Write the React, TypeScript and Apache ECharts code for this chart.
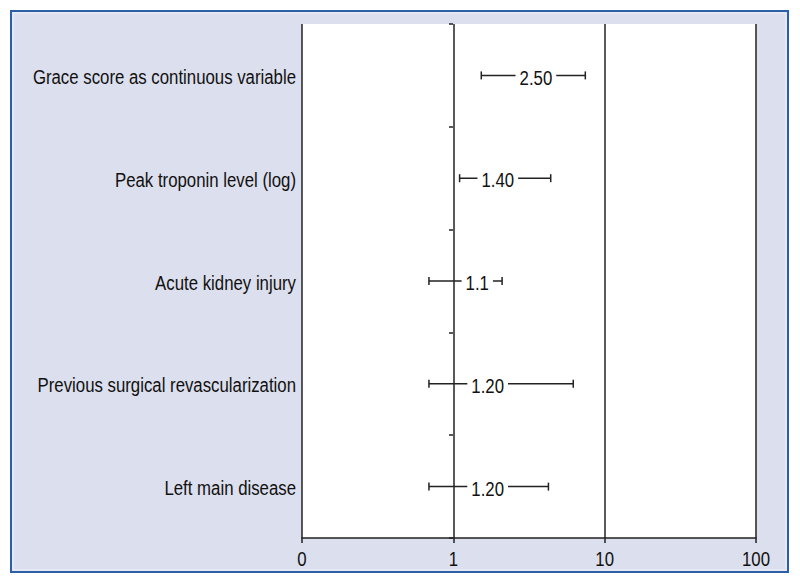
import React, { useEffect, useRef } from "react";
import * as echarts from "echarts";

const categories = [
  "Grace score as continuous variable",
  "Peak troponin level (log)",
  "Acute kidney injury",
  "Previous surgical revascularization",
  "Left main disease",
];
const estimates = [2.5, 1.4, 1.1, 1.2, 1.2];
const lowerCI = [1.53, 1.1, 0.69, 0.69, 0.69];
const upperCI = [7.45, 4.4, 2.1, 6.2, 4.25];
const estimateLabels = ["2.50", "1.40", "1.1", "1.20", "1.20"];
const xTickValues = [0.1, 1, 10, 100];
const xTickLabels = ["0", "1", "10", "100"];

const FONT = "'Liberation Sans', Arial, sans-serif";
const FS = 21;
const SX = 0.8;
const INK = "#222";
const TXT = "#111";

export default function App() {
  const ref = useRef<HTMLDivElement>(null);
  useEffect(() => {
    if (!ref.current) return;
    const chart = echarts.init(ref.current, undefined, { renderer: "svg" });
    const data = categories.map((_, i) => [i, estimates[i], lowerCI[i], upperCI[i]]);
    const tickData = xTickValues.map((v, i) => [v, categories.length - 1, i]);
    chart.setOption({
      animation: false,
      backgroundColor: "#ffffff",
      graphic: [
        {
          type: "rect",
          z: -100,
          shape: { x: 11, y: 11, width: 777, height: 561 },
          style: { fill: "#dcdfed", stroke: "#2c5fa5", lineWidth: 2 },
          silent: true,
        },
        {
          type: "rect",
          z: -99,
          shape: { x: 13, y: 13, width: 773, height: 557 },
          style: { fill: "none", stroke: "#eef0f7", lineWidth: 1 },
          silent: true,
        },
      ],
      grid: {
        left: 302,
        right: 44,
        top: 24,
        bottom: 46,
        show: true,
        backgroundColor: "#ffffff",
        borderWidth: 0,
        containLabel: false,
        outerBoundsMode: "none",
      },
      xAxis: {
        type: "log",
        logBase: 10,
        min: 0.1,
        max: 100,
        axisLine: { show: true, lineStyle: { color: INK, width: 1.5 } },
        axisTick: { show: true, length: 5, lineStyle: { color: INK, width: 1.5 } },
        minorTick: { show: false },
        splitLine: { show: true, lineStyle: { color: INK, width: 1.5 } },
        axisLabel: { show: false },
      },
      yAxis: [
        {
          type: "category",
          data: categories,
          inverse: true,
          axisLine: { show: false },
          axisTick: { show: false },
          splitLine: { show: false },
          axisLabel: { show: false },
        },
        {
          type: "category",
          data: categories,
          inverse: true,
          position: "left",
          offset: -151,
          axisLine: { show: false },
          axisTick: { show: true, length: 4, alignWithLabel: false, lineStyle: { color: INK, width: 1.5 } },
          splitLine: { show: false },
          axisLabel: { show: false },
        },
      ],
      series: [
        {
          type: "custom",
          yAxisIndex: 0,
          data,
          encode: { x: [1, 2, 3], y: 0 },
          renderItem: (params: any, api: any) => {
            const cat = api.value(0);
            const i = params.dataIndex;
            const pEst = api.coord([api.value(1), cat]);
            const pLo = api.coord([api.value(2), cat]);
            const pHi = api.coord([api.value(3), cat]);
            const y = pEst[1];
            const gridLeft = params.coordSys.x;
            const cap = 4;
            const ls = { stroke: INK, lineWidth: 1.5 };
            return {
              type: "group",
              children: [
                {
                  type: "text",
                  x: gridLeft - 6,
                  y: y + 1.5,
                  scaleX: SX,
                  style: {
                    text: categories[i],
                    fontFamily: FONT,
                    fontSize: FS,
                    fill: TXT,
                    align: "right",
                    verticalAlign: "middle",
                  },
                },
                { type: "line", shape: { x1: pLo[0], y1: y, x2: pHi[0], y2: y }, style: ls },
                { type: "line", shape: { x1: pLo[0], y1: y - cap, x2: pLo[0], y2: y + cap }, style: ls },
                { type: "line", shape: { x1: pHi[0], y1: y - cap, x2: pHi[0], y2: y + cap }, style: ls },
                {
                  type: "text",
                  x: pEst[0] + 2,
                  y: y + 2,
                  scaleX: SX,
                  style: {
                    text: estimateLabels[i],
                    fontFamily: FONT,
                    fontSize: FS,
                    fill: TXT,
                    align: "left",
                    verticalAlign: "middle",
                    backgroundColor: "#ffffff",
                    padding: [0, 5],
                  },
                },
              ],
            };
          },
        },
        {
          type: "custom",
          yAxisIndex: 0,
          data: tickData,
          encode: { x: 0, y: 1 },
          renderItem: (params: any, api: any) => {
            const p = api.coord([api.value(0), api.value(1)]);
            const bottom = params.coordSys.y + params.coordSys.height;
            return {
              type: "text",
              x: p[0],
              y: bottom + 21,
              scaleX: SX,
              style: {
                text: xTickLabels[api.value(2)],
                fontFamily: FONT,
                fontSize: FS,
                fill: TXT,
                align: "center",
                verticalAlign: "middle",
              },
            };
          },
        },
      ],
    });
    return () => chart.dispose();
  }, []);
  return (
    <div
      ref={ref}
      style={{ position: "absolute", left: 0, top: 0, width: 800, height: 584 }}
    />
  );
}
